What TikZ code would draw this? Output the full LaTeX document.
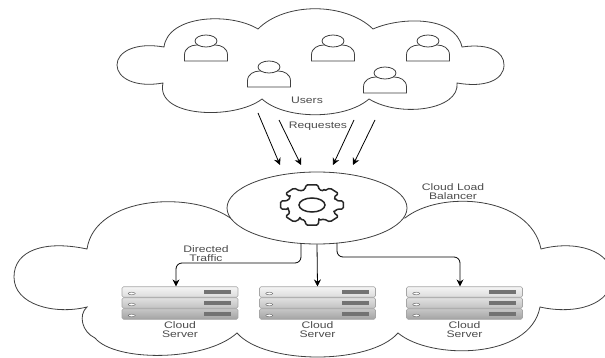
\documentclass[tikz,border=0pt]{standalone}
\usepackage{fontspec}
\setmainfont{Liberation Sans}[FakeStretch=1.28]
\usetikzlibrary{arrows.meta}
\usetikzlibrary{positioning}
\usetikzlibrary{shapes.geometric}

\begin{document}
\begin{tikzpicture}[
		x=1pt, y=-1pt,
		cloudline/.style = {draw=black!75, line width=.8pt, fill=white},
		person/.style = {draw=black!75, line width=.8pt, fill=white, ellipse, minimum width=22pt, minimum height=12pt, inner sep=0pt},
		balancer/.style = {draw=black!75, line width=.8pt, fill=white, ellipse, minimum width=180pt, minimum height=72pt, inner sep=0pt},
		rack/.style = {draw=black!35, line width=.6pt, rounded corners=1.5pt, minimum width=116pt, minimum height=10.5pt, inner sep=0pt},
		tag/.style = {text=black!70, font=\fontsize{9.5}{9}\selectfont, align=center, inner sep=0pt},
		flow/.style = {draw=black, line width=.8pt, -{Stealth[length=7pt,width=7pt]}},
		traffic/.style = {flow, rounded corners=6pt}
	]
	\useasboundingbox (0,0) rectangle (605,358);
	% Users cloud.
	\path[cloudline] (258,29) .. controls (285,2) and (345,2) .. (373,29)
		.. controls (400,17) and (455,15) .. (462,47)
		.. controls (490,43) and (504,52) .. (504,65)
		.. controls (504,80) and (485,88) .. (457,83)
		.. controls (460,110) and (400,118) .. (369,99)
		.. controls (345,120) and (285,120) .. (262,99)
		.. controls (235,120) and (155,118) .. (163,83)
		.. controls (135,88) and (117,78) .. (117,65)
		.. controls (117,52) and (135,42) .. (164,47)
		.. controls (168,15) and (230,12) .. (258,29) -- cycle;
	% Servers cloud.
	\path[cloudline] (233,220) .. controls (195,190) and (95,195) .. (87,249)
		.. controls (45,240) and (14,250) .. (14,277)
		.. controls (14,305) and (55,315) .. (87,307)
		.. controls (78,315) and (82,332) .. (95,338)
		.. controls (115,362) and (205,362) .. (237,333)
		.. controls (265,365) and (370,365) .. (398,333)
		.. controls (430,360) and (530,360) .. (540,307)
		.. controls (575,315) and (612,305) .. (612,277)
		.. controls (612,250) and (575,240) .. (541,249)
		.. controls (530,195) and (440,190) .. (405,218) -- cycle;
	\node[balancer] (lb) at (317,208) {};
	% Gear.
	\begin{scope}[shift={(312,205)}, yscale=.64]
		\draw[black!85, line width=1.5pt, line join=round, rounded corners=1.5pt] (-16:25)
			\foreach \a in {0,45,...,315} {
				-- (\a-16:25) -- (\a-11:32) -- (\a+11:32) -- (\a+16:25) -- (\a+29:25)
			} -- cycle;
	\end{scope}
	\node[draw=black!85, line width=1.5pt, ellipse, minimum width=26pt, minimum height=14pt, inner sep=0pt] (hub) at (312,205) {};
	% Users.
	\foreach \name/\px/\py in {ua/206/41, ub/269/67, uc/333/41, ud/428/41, ue/385/73} {
		\path[cloudline] (\px-21.5,\py+20) -- (\px-21.5,\py+14)
			.. controls (\px-21.5,\py+7) and (\px-15,\py+4) .. (\px-9,\py+4)
			-- (\px+9,\py+4)
			.. controls (\px+15,\py+4) and (\px+21.5,\py+7) .. (\px+21.5,\py+14)
			-- (\px+21.5,\py+20) -- cycle;
		\node[person] (\name) at (\px,\py) {};
	}
	\node[tag] (users) at (307,100) {Users};
	\node[tag] (req) at (318,126) {Requestes};
	\node[tag] (lbtext) at (453,191.5) {Cloud Load\\Balancer};
	\node[tag] (dirtext) at (206,253.5) {Directed\\Traffic};
	% Servers.
	\foreach \name/\cx in {sa/180, sb/317.5, sc/464.5} {
		\node[rack, top color=black!4, bottom color=black!14] (\name top) at (\cx,292) {};
		\node[rack, top color=black!12, bottom color=black!24] (\name mid) at (\cx,303) {};
		\node[rack, top color=black!22, bottom color=black!36] (\name low) at (\cx,314) {};
		\foreach \row in {top, mid, low} {
			\fill[black!55] ([xshift=-34pt,yshift=-2pt]\name\row.east) rectangle ([xshift=-7pt,yshift=2pt]\name\row.east);
			\filldraw[draw=black!55, fill=white, line width=.5pt] ([xshift=10pt,yshift=-1.5pt]\name\row.west) ellipse (3.5pt and 1.3pt);
		}
		\node[tag, below=2pt of \name low] (\name text) {Cloud\\Server};
	}
	% Requests.
	\coordinate (ra) at (258,113);
	\coordinate (rb) at (279,120);
	\coordinate (rc) at (354,120);
	\coordinate (rd) at (375,120);
	\coordinate (ta) at (280,165);
	\coordinate (tb) at (301,165);
	\coordinate (tc) at (333,165);
	\coordinate (td) at (353,165);
	\draw[flow] (ra) to (ta);
	\draw[flow] (rb) to (tb);
	\draw[flow] (rc) to (tc);
	\draw[flow] (rd) to (td);
	% Traffic.
	\coordinate (la) at (301,243.5);
	\coordinate (lc) at (337,243);
	\draw[traffic] (la) |- (176,263) -- (satop.north -| 176,0);
	\draw[flow] (lb.south) -- (sbtop.north);
	\draw[traffic] (lc) |- (460,257) -- (sctop.north -| 460,0);
\end{tikzpicture}
\end{document}
